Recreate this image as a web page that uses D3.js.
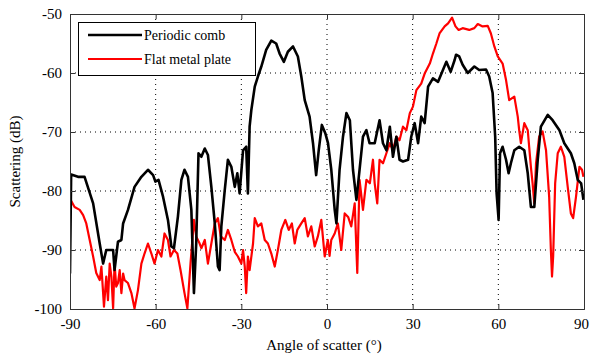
<!DOCTYPE html>
<html>
<head>
<meta charset="utf-8">
<script src="https://cdn.jsdelivr.net/npm/d3@7"></script>
<style>
  body { margin: 0; background: #fff; }
  svg { display: block; }
  svg text { font-family: "Liberation Serif", "DejaVu Serif", "Times New Roman", serif; }
</style>
</head>
<body>
<div id="chart"></div>
<script>
// angle of scatter (deg) and scattering (dB)
var combAngle = [-90, -89.6, -87.2, -84.9, -81.9, -79.6, -78.4, -77.3, -74.9, -74.4, -73.2, -72.0, -71.4, -69.7, -67.4, -65.0, -62.7, -60.9, -60.1, -59.0, -57.4, -55.7, -54.5, -53.6, -52.2, -51.0, -49.9, -48.7, -47.5, -46.6, -45.8, -45.0,
  -44.0, -42.8, -41.7, -40.5, -39.3, -38.2, -37.6, -37.0, -35.8, -34.7, -33.5, -32.3, -31.4, -30.6, -29.4, -28.3, -27.7, -27.1, -26.5, -25.3, -24.2, -23.0, -21.3, -19.5, -17.8, -16.6, -15.1, -13.7, -11.9, -10.2, -9.0, -7.8, -6.1, -4.9, -3.8, -2.9, -1.8, -0.6, 0.35,
  1.5, 2.7, 3.3, 4.4, 5.6, 6.8, 8.0, 9.1, 10.3, 11.4, 12.6, 13.8, 14.9, 16.7, 18.4, 19.6, 20.8, 22.0, 23.1, 24.3, 25.4, 26.6, 28.4, 29.5, 30.7, 31.9, 33.0, 34.2, 35.4, 37.1, 38.9, 40.6, 41.8, 43.3, 44.7,
  45.2, 46.3, 47.5, 49.3, 51.6, 53.3, 55.7, 56.8, 58.0, 58.9, 59.4, 60.1, 60.6, 61.5, 62.7, 63.6, 64.4, 65.6, 67.3, 69.1, 70.3, 71.4, 72.6, 73.8, 74.9, 77.3, 79.0, 81.4, 83.1, 85.4, 86.6, 87.8, 89.0, 89.8];
var combDb = [-94, -77.2, -77.6, -77.6, -82.1, -88.9, -92.3, -90, -90, -93.4, -88.6, -88.3, -85.5, -83.2, -79.3, -77.6, -76.4, -77.3, -78.4, -78.1, -81, -84.9, -89.4, -89.7, -84.3, -78.1, -76.4, -77.6, -83.2, -97.3, -88.9, -73.6,
  -74.2, -72.8, -73.9, -79.3, -85.5, -92.8, -93.4, -86.0, -79.8, -74.7, -75.9, -79.3, -77, -80.4, -73.1, -72.5, -80.4, -69.1, -66.3, -62.3, -60.6, -58.9, -56.1, -54.5, -55, -56.7, -58.1, -56.4, -55.5, -57.2, -60.6, -64.6, -67.4, -71.9, -77.3, -73.1, -68.8, -70.2, -71.9,
  -76.4, -83.2, -85.5, -76.4, -70.8, -66.8, -68, -76.4, -81.5, -76.4, -70.8, -69.7, -71.9, -71.9, -68, -71.9, -73.1, -69.1, -74.2, -70.8, -74.7, -75, -74.7, -70.8, -68.5, -71.9, -67.4, -68.5, -62.3, -60.9, -61.5, -59.5, -58.1, -59.8, -57.8,
  -56.9, -57.2, -58.6, -60, -58.9, -59.5, -59.4, -60.6, -63.4, -70.8, -80.4, -84.9, -73.6, -72.5, -74.7, -77, -75.3, -73.1, -72.5, -73.1, -77, -82.7, -82.7, -74.7, -69.1, -67.1, -68, -69.7, -71.9, -73.6, -75.3, -78.1, -78.7, -81.5];

var plateAngle = [-89.8, -88.4, -86.6, -85.4, -84.3, -83.1, -81.9, -80.8, -79.6, -79.0, -78.1, -77.3, -76.7, -76.1, -75.5, -74.9, -74.4, -73.8, -73.2, -72.6, -72.0, -71.4, -70.9, -69.7, -68.5, -67.4, -66.2, -65.0, -63.9, -62.7, -61.5, -60.4, -59.2, -58.0, -56.9, -55.7, -54.8, -53.6, -52.4, -51.3, -49.9, -48.9, -47.8, -46.6, -45.8, -44.6,
  -44.0, -42.8, -41.7, -40.5, -39.3, -38.2, -37.2, -35.8, -34.7, -33.5, -32.3, -31.2, -30.0, -29.4, -28.8, -28.3, -27.7, -27.1, -25.9, -25.3, -24.2, -23.0, -21.8, -20.7, -19.5, -18.3, -17.2, -16.0, -14.6, -13.4, -12.3, -11.3, -10.4, -9.0, -7.8, -6.7, -5.5, -4.3, -3.2, -2.0, -0.8, 0.3,
  0.9, 1.5, 2.7, 3.8, 5.0, 6.2, 7.4, 8.5, 9.7, 10.6, 11.4, 12.6, 13.8, 15.0, 16.1, 16.7, 17.6, 18.4, 19.6, 20.8, 22.0, 23.1, 24.3, 25.4, 26.6, 27.8, 29.0, 30.1, 31.3, 33.0, 34.2, 36.0, 37.1, 38.3, 39.4, 41.2, 42.4, 43.8, 45.0, 46.1,
  47.5, 49.8, 51.6, 52.8, 54.5, 56.3, 57.4, 58.6, 59.8, 61.5, 62.7, 63.8, 65.6, 66.8, 67.3, 67.9, 69.1, 70.3, 71.4, 72.0, 72.6, 73.2, 74.3, 75.5, 76.7, 77.8, 78.4, 78.8, 79.2, 79.9, 80.8, 81.9, 83.1, 84.3, 85.4, 86.2, 87.2, 88.4, 89.3, 89.8];
var plateDb = [-81.5, -82.7, -83.2, -84.1, -85.5, -88.3, -91.1, -93.9, -95.1, -92.8, -99.6, -94.5, -98.5, -92.3, -94.5, -99.9, -92.3, -96.2, -95.6, -93.4, -97.3, -94, -95.1, -95.6, -97.3, -99.9, -96.8, -92.3, -90.6, -88.9, -90.6, -92.3, -90, -91.1, -87.2, -88.3, -91.1, -90, -90.6, -93.4, -97.3, -99.9, -92.3, -84.9, -87.7, -88.9,
  -89.7, -88.3, -92.3, -88.9, -85.5, -84.6, -87.7, -88.3, -86.6, -88.3, -90.3, -91.1, -92.3, -90, -92.8, -97.3, -91.1, -93.4, -88.9, -84.6, -86, -85.5, -88.3, -88.9, -90.6, -92.8, -90, -86.6, -84.9, -86.6, -85.5, -88.9, -86.6, -85.5, -84.6, -87.7, -86, -89.4, -87.7, -84.9, -91.1, -88.3,
  -91, -88.3, -87.2, -85.5, -90, -83.8, -84.4, -86, -82.1, -93.9, -78.1, -83.2, -78.1, -78.7, -74.7, -78.7, -82.1, -74.7, -75.3, -73.6, -71.9, -73.1, -70.8, -71.4, -69.1, -69.7, -66.8, -65.7, -62.9, -61.8, -60.1, -58.4, -56.7, -55, -53.3, -52.1, -51.6, -50.6, -52.1, -52.7,
  -52.4, -52.7, -52.4, -51.7, -52.1, -52, -53.3, -55.5, -57.2, -58.4, -61.2, -64.6, -64, -67.4, -69.7, -71.9, -68.5, -69.7, -75.9, -78.7, -82.1, -75.3, -70.8, -69.9, -73.1, -81, -90, -94.5, -91.1, -78.7, -73.6, -72.5, -74.2, -79.3, -83.8, -84.6, -81, -75.9, -76.4, -77.6];

var xTicks = [-90, -60, -30, 0, 30, 60, 90];
var yTicks = [-100, -90, -80, -70, -60, -50];
var seriesNames = ["Periodic comb", "Flat metal plate"];
var seriesColors = ["#000000", "#ff0000"];

var width = 590, height = 358;
var margin = {top: 14, right: 6, bottom: 49, left: 70};
var w = width - margin.left - margin.right,
    h = height - margin.top - margin.bottom;
var serif = "'Liberation Serif', 'DejaVu Serif', serif";

var svg = d3.select("#chart").append("svg")
  .attr("width", width)
  .attr("height", height);

var g = svg.append("g")
  .attr("transform", "translate(" + margin.left + "," + margin.top + ")");

var x = d3.scaleLinear().domain([-90, 90]).range([0, w]);
var y = d3.scaleLinear().domain([-100, -50]).range([h, 0]);

// dotted grid
g.append("g").selectAll("line")
  .data(xTicks.slice(1, -1))
  .enter().append("line")
  .attr("x1", d => x(d)).attr("x2", d => x(d))
  .attr("y1", 0).attr("y2", h)
  .attr("stroke", "#000").attr("stroke-width", 1)
  .attr("stroke-dasharray", "1,4");
g.append("g").selectAll("line")
  .data(yTicks.slice(1, -1))
  .enter().append("line")
  .attr("x1", 0).attr("x2", w)
  .attr("y1", d => y(d)).attr("y2", d => y(d))
  .attr("stroke", "#000").attr("stroke-width", 1)
  .attr("stroke-dasharray", "1,4");

// curves
g.append("clipPath").attr("id", "clip")
  .append("rect").attr("width", w).attr("height", h);

var line = d3.line()
  .x(d => x(d[0]))
  .y(d => y(d[1]));

var plate = plateAngle.map((a, i) => [a, plateDb[i]]);
var comb = combAngle.map((a, i) => [a, combDb[i]]);

g.append("path")
  .datum(plate)
  .attr("clip-path", "url(#clip)")
  .attr("fill", "none")
  .attr("stroke", seriesColors[1])
  .attr("stroke-width", 2.2)
  .attr("stroke-linejoin", "round")
  .attr("d", line);

g.append("path")
  .datum(comb)
  .attr("clip-path", "url(#clip)")
  .attr("fill", "none")
  .attr("stroke", seriesColors[0])
  .attr("stroke-width", 2.6)
  .attr("stroke-linejoin", "round")
  .attr("d", line);

// axes, matlab style with inward ticks on all sides
var fontSize = "15px";
var xAxis = g.append("g")
  .attr("transform", "translate(0," + h + ")")
  .call(d3.axisBottom(x).tickValues(xTicks).tickSize(-5).tickPadding(9));
var xTop = g.append("g")
  .call(d3.axisTop(x).tickValues(xTicks).tickSize(-5).tickFormat(""));
var yAxis = g.append("g")
  .call(d3.axisLeft(y).tickValues(yTicks).tickSize(-5).tickPadding(8));
var yRight = g.append("g")
  .attr("transform", "translate(" + w + ",0)")
  .call(d3.axisRight(y).tickValues(yTicks).tickSize(-5).tickFormat(""));

[xAxis, xTop, yAxis, yRight].forEach(a => {
  a.attr("font-family", serif).attr("font-size", fontSize);
  a.select(".domain").attr("stroke", "#333");
  a.selectAll(".tick line").attr("stroke", "#333");
  a.selectAll("text").attr("fill", "#000");
});
xAxis.selectAll(".tick text")
  .text(d => d < 0 ? "-" + Math.abs(d) : d)
  .attr("dx", d => d == 90 ? -3 : 0);
yAxis.selectAll(".tick text").text(d => "-" + Math.abs(d));

svg.append("text")
  .attr("x", 324)
  .attr("y", 350)
  .attr("text-anchor", "middle")
  .attr("font-family", serif)
  .attr("font-size", fontSize)
  .text("Angle of scatter (\u00b0)");

svg.append("text")
  .attr("transform", "translate(20," + (margin.top + h / 2) + ") rotate(-90)")
  .attr("text-anchor", "middle")
  .attr("font-family", serif)
  .attr("font-size", fontSize)
  .text("Scattering (dB)");

// legend
var legend = svg.append("g").attr("transform", "translate(78,22)");
legend.append("rect")
  .attr("x", 0.5).attr("y", 0.5)
  .attr("width", 177).attr("height", 53)
  .attr("fill", "#fff").attr("stroke", "#000");
seriesNames.forEach((name, i) => {
  var ly = 13 + i * 24;
  legend.append("line")
    .attr("x1", 10).attr("x2", 64)
    .attr("y1", ly).attr("y2", ly)
    .attr("stroke", seriesColors[i])
    .attr("stroke-width", i == 0 ? 2.6 : 2.2);
  legend.append("text")
    .attr("x", 66).attr("y", ly + 5)
    .attr("font-family", serif)
    .attr("font-size", "14px")
    .text(name);
});
</script>
</body>
</html>
